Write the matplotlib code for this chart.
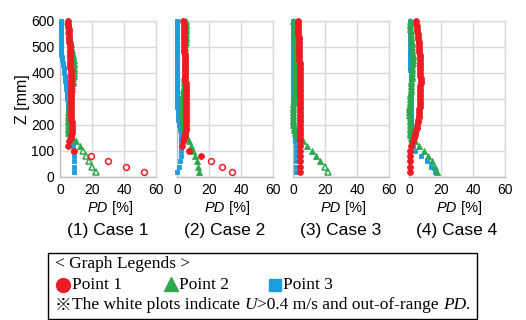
import matplotlib
matplotlib.use("Agg")
import matplotlib.pyplot as plt
from matplotlib.lines import Line2D
from matplotlib.patches import Rectangle
from matplotlib.transforms import IdentityTransform

# === DATA ===
# sampling heights Z [mm], top to bottom
Z = [600, 590, 580, 570, 560, 550, 540, 530, 520, 510,
     500, 490, 480, 470, 460, 450, 440, 430, 420, 410,
     400, 390, 380, 370, 360, 350, 340, 330, 320, 310,
     300, 290, 280, 270, 260, 250, 240, 230, 220, 210,
     200, 190, 180, 170, 160, 150, 140, 120, 100, 80, 60, 40, 20]

case_titles = ["(1) Case 1", "(2) Case 2", "(3) Case 3", "(4) Case 4"]
x_ticks = [0, 20, 40, 60]
z_ticks = [0, 100, 200, 300, 400, 500, 600]

# PD [%] per case, point 1 / 2 / 3
c1_p1 = [5.0, 5.1, 5.2, 5.4, 5.5, 5.6, 5.7, 5.8, 5.9, 6.0,
         6.1, 6.2, 6.2, 6.3, 6.3, 6.4, 6.4, 6.5, 6.5, 6.6,
         6.6, 6.6, 6.7, 6.7, 6.7, 6.7, 6.8, 6.8, 6.8, 6.8,
         6.8, 6.9, 6.9, 6.9, 7.0, 7.0, 7.0, 7.1, 7.1, 7.2,
         7.2, 7.2, 7.2, 7.2, 7.1, 6.8, 5.8, 5.0, 8.8, 19.2, 30.0, 41.0, 52.5]
c1_p2 = [4.5, 4.7, 4.9, 5.1, 5.3, 5.6, 5.9, 6.2, 6.5, 6.8,
         7.1, 7.4, 7.7, 8.0, 8.3, 8.5, 8.6, 8.7, 8.7, 8.7,
         8.6, 8.5, 8.3, 8.1, 7.9, 7.7, 7.4, 7.1, 6.8, 6.5,
         6.2, 6.0, 5.8, 5.6, 5.4, 5.2, 5.0, 4.9, 4.8, 4.7,
         4.7, 4.7, 4.9, 5.3, 6.3, 8.0, 9.8, 12.5, 14.5, 16.5, 18.3, 20.3, 22.5]
c1_p3 = [0.4, 0.4, 0.4, 0.5, 0.5, 0.5, 0.5, 0.5, 0.5, 0.6,
         0.6, 0.6, 0.7, 0.8, 1.0, 1.4, 1.8, 2.1, 2.4, 2.6,
         2.8, 3.0, 3.2, 3.4, 3.6, 3.8, 4.0, 4.2, 4.3, 4.5,
         4.6, 4.8, 4.9, 5.0, 5.2, 5.3, 5.5, 5.7, 5.9, 6.1,
         6.3, 6.5, 6.8, 7.0, 7.3, 7.6, 7.9, 8.2, 8.4, 8.5, 8.6, 8.6, 8.6]

c2_p1 = [4.0, 4.1, 4.1, 4.2, 4.2, 4.3, 4.3, 4.4, 4.4, 4.5,
         4.5, 4.6, 4.6, 4.7, 4.8, 4.8, 4.9, 5.0, 5.0, 5.1,
         5.2, 5.2, 5.3, 5.3, 5.4, 5.4, 5.5, 5.5, 5.6, 5.6,
         5.6, 5.7, 5.7, 5.7, 5.8, 5.8, 5.8, 5.8, 5.8, 5.8,
         5.8, 5.7, 5.5, 5.2, 4.8, 4.4, 4.0, 3.3, 7.8, 14.8, 21.3, 28.0, 34.2]
c2_p2 = [5.8, 5.8, 5.7, 5.7, 5.6, 5.6, 5.5, 5.5, 5.4, 5.3,
         5.3, 5.2, 5.2, 5.1, 5.1, 5.0, 5.0, 4.9, 4.9, 4.8,
         4.8, 4.6, 4.5, 4.4, 4.2, 4.1, 3.9, 3.7, 3.5, 3.4,
         3.3, 3.1, 3.0, 2.9, 2.8, 2.8, 2.8, 2.9, 3.0, 3.2,
         3.5, 3.9, 4.4, 5.0, 5.7, 6.5, 7.5, 9.0, 10.1, 11.3, 12.3, 13.2, 14.0]
c2_p3 = [0.2, 0.2, 0.3, 0.3, 0.3, 0.2, 0.2, 0.3, 0.3, 0.3,
         0.3, 0.2, 0.2, 0.3, 0.3, 0.3, 0.3, 0.2, 0.2, 0.3,
         0.3, 0.3, 0.3, 0.3, 0.2, 0.2, 0.3, 0.3, 0.3, 0.3,
         0.3, 0.3, 0.3, 0.3, 0.4, 0.4, 0.4, 0.5, 0.8, 1.1,
         1.4, 1.7, 2.0, 2.2, 2.4, 2.5, 2.5, 2.5, 2.4, 2.3, 2.0, 1.3, 0.2]

c3_p1 = [2.9, 3.0, 3.1, 3.2, 3.3, 3.4, 3.5, 3.5, 3.6, 3.7,
         3.7, 3.8, 3.9, 3.9, 4.0, 4.0, 4.1, 4.1, 4.2, 4.2,
         4.3, 4.3, 4.3, 4.3, 4.3, 4.4, 4.4, 4.4, 4.4, 4.4,
         4.4, 4.4, 4.4, 4.4, 4.4, 4.5, 4.5, 4.5, 4.5, 4.5,
         4.5, 4.5, 4.5, 4.5, 4.5, 4.5, 4.5, 4.5, 4.5, 4.5, 4.5, 4.5, 4.5]
c3_p2 = [0.3, 0.4, 0.5, 0.6, 0.7, 0.8, 0.9, 1.0, 1.1, 1.2,
         1.2, 1.2, 1.3, 1.3, 1.3, 1.3, 1.3, 1.3, 1.3, 1.3,
         1.3, 1.3, 1.3, 1.3, 1.3, 1.3, 1.2, 1.2, 1.1, 0.9,
         0.7, 0.5, 0.3, 0.2, 0.2, 0.2, 0.2, 0.2, 0.2, 0.2,
         0.2, 0.4, 0.8, 1.3, 2.5, 4.0, 6.5, 9.0, 11.6, 14.2, 16.8, 19.8, 22.0]
c3_p3 = [0.1, 0.1, 0.2, 0.2, 0.2, 0.2, 0.2, 0.2, 0.2, 0.2,
         0.2, 0.2, 0.2, 0.2, 0.2, 0.2, 0.2, 0.2, 0.2, 0.2,
         0.2, 0.2, 0.2, 0.2, 0.2, 0.2, 0.2, 0.2, 0.2, 0.2,
         0.2, 0.2, 0.2, 0.2, 0.2, 0.2, 0.2, 0.2, 0.2, 0.3,
         0.3, 0.5, 0.9, 1.2, 1.4, 1.5, 1.5, 1.6, 1.6, 1.7, 1.7, 1.7, 1.7]

c4_p1 = [4.4, 4.6, 4.8, 5.0, 5.3, 5.5, 5.7, 5.9, 6.0, 6.1,
         6.2, 6.4, 6.5, 6.6, 6.7, 6.8, 6.9, 7.0, 7.0, 7.1,
         7.1, 7.1, 7.2, 7.2, 7.2, 7.1, 7.1, 7.0, 7.0, 6.9,
         6.9, 6.8, 6.7, 6.6, 6.5, 6.4, 6.2, 6.0, 5.8, 5.6,
         5.3, 4.9, 4.5, 4.0, 3.5, 3.0, 2.4, 1.3, 0.7, 0.5, 0.5, 0.5, 0.5]
c4_p2 = [0.6, 0.7, 0.8, 0.9, 1.0, 1.2, 1.3, 1.5, 1.6, 1.8,
         1.9, 2.0, 2.1, 2.2, 2.2, 2.2, 2.2, 2.1, 2.0, 1.9,
         1.8, 1.7, 1.6, 1.5, 1.4, 1.3, 1.2, 1.0, 0.8, 0.6,
         0.5, 0.4, 0.4, 0.3, 0.3, 0.3, 0.3, 0.4, 0.4, 0.4,
         0.4, 0.4, 0.4, 0.5, 0.5, 1.0, 3.5, 6.3, 9.1, 11.9, 14.3, 16.2, 17.8]
c4_p3 = [0.5, 0.5, 0.5, 0.5, 0.6, 0.6, 0.6, 0.6, 0.6, 0.6,
         0.7, 0.7, 0.7, 0.7, 0.8, 0.8, 0.8, 0.9, 0.9, 0.9,
         1.0, 1.0, 1.0, 1.0, 1.0, 1.0, 1.0, 1.0, 1.0, 1.0,
         1.0, 1.0, 1.0, 1.0, 1.0, 1.0, 1.0, 1.1, 1.1, 1.1,
         1.1, 1.1, 1.1, 1.2, 1.2, 1.2, 1.5, 2.2, 4.0, 7.5, 11.0, 13.8, 16.0]

# heights where the marker is white (U > 0.4 m/s, PD out of range)
c1_p1_white = [80, 60, 40, 20]
c1_p2_white = [100, 80, 60, 40, 20]
c2_p1_white = [60, 40, 20]
c3_p2_white = [40, 20]

cases = [
    (c1_p1, c1_p2, c1_p3, c1_p1_white, c1_p2_white),
    (c2_p1, c2_p2, c2_p3, c2_p1_white, []),
    (c3_p1, c3_p2, c3_p3, [], c3_p2_white),
    (c4_p1, c4_p2, c4_p3, [], []),
]

# === STYLE ===
RED = "#ED1C24"
GREEN = "#2DA84E"
BLUE = "#1B9DDE"
GRID = "#d9d9d9"
W, H = 526, 320
SANS = "Liberation Sans"
SERIF = "Liberation Serif"
MARK = "Noto Sans CJK JP"

plt.rcParams["font.family"] = SANS

fig = plt.figure(figsize=(W / 100, H / 100), dpi=100)
renderer = fig.canvas.get_renderer()
px = IdentityTransform()


def run_width(s, **kw):
    # advance width of a text run (keeps trailing spaces)
    t1 = fig.text(0, 0, s + "|", transform=px, **kw)
    t2 = fig.text(0, 0, "|", transform=px, **kw)
    w = t1.get_window_extent(renderer).width - t2.get_window_extent(renderer).width
    t1.remove()
    t2.remove()
    return w


def put_runs(x, y, runs, center=False):
    # runs: list of (text, kwargs); x, y in pixels from top-left
    if center:
        x -= sum(run_width(s, **kw) for s, kw in runs) / 2
    for s, kw in runs:
        fig.text(x, H - y, s, transform=px, va="center", ha="left", **kw)
        x += run_width(s, **kw)


def draw_series(ax, xs, colour, marker, ms, white):
    filled_x = [v for v, z in zip(xs, Z) if z not in white]
    filled_z = [z for z in Z if z not in white]
    ax.plot(filled_x, filled_z, ls="none", marker=marker, ms=ms,
            mfc=colour, mec=colour, mew=0.6, clip_on=False, zorder=3)
    if white:
        wx = [v for v, z in zip(xs, Z) if z in white]
        wz = [z for z in Z if z in white]
        ax.plot(wx, wz, ls="none", marker=marker, ms=ms, mfc="white",
                mec=colour, mew=1.1, clip_on=False, zorder=3)


lefts = [60, 177, 293, 409]
top, bottom, width = 21, 177, 96

for i, (p1, p2, p3, w1, w2) in enumerate(cases):
    ax = fig.add_axes([lefts[i] / W, 1 - bottom / H, width / W, (bottom - top) / H])
    draw_series(ax, p3, BLUE, "s", 3.4, [])
    draw_series(ax, p2, GREEN, "^", 4.2, w2)
    draw_series(ax, p1, RED, "o", 4.2, w1)

    ax.set_xlim(0, 60)
    ax.set_ylim(0, 600)
    ax.set_xticks(x_ticks)
    ax.set_yticks(z_ticks)
    ax.grid(True, color=GRID, lw=1.0)
    ax.set_axisbelow(True)
    for side in ["top", "right"]:
        ax.spines[side].set_color(GRID)
    for side in ["left", "bottom"]:
        ax.spines[side].set_color("#bfbfbf")
    for sp in ax.spines.values():
        sp.set_linewidth(1.0)
    ax.tick_params(length=0, labelsize=10, pad=4, colors="black")
    if i == 0:
        ax.set_ylabel("Z [mm]", fontsize=11.5, labelpad=1)
    else:
        ax.set_yticklabels([])

    cx = lefts[i] + width / 2
    put_runs(cx + 2, 208, [("PD", dict(fontsize=10.5, style="italic")),
                           (" [%]", dict(fontsize=10.5))], center=True)
    fig.text(cx / W, 1 - 230 / H, case_titles[i], ha="center", va="center",
             fontsize=12.5)

# === legend box ===
fig.add_artist(Rectangle((48, H - 319), 429, 66, transform=px, fill=False,
                         ec="black", lw=1.0))
LEG = dict(fontsize=12.5, family=SERIF)
put_runs(55, 264, [("< Graph Legends >", LEG)])

fig.add_artist(Line2D([63], [H - 285], transform=px, marker="o", ms=10,
                      color=RED, ls="none"))
fig.add_artist(Line2D([171], [H - 284], transform=px, marker="^", ms=10,
                      color=GREEN, ls="none"))
fig.add_artist(Line2D([275], [H - 285], transform=px, marker="s", ms=9,
                      color=BLUE, ls="none"))
put_runs(72, 285, [("Point 1", LEG)])
put_runs(179, 285, [("Point 2", LEG)])
put_runs(283, 285, [("Point 3", LEG)])

put_runs(55, 305, [
    ("※", dict(fontsize=12, family=[MARK, SERIF])),
    ("The white plots indicate ", LEG),
    ("U", dict(LEG, style="italic")),
    (">0.4 m/s and out-of-range ", LEG),
    ("PD", dict(LEG, style="italic")),
    (".", LEG),
])

fig.savefig("out.png", dpi=100)
